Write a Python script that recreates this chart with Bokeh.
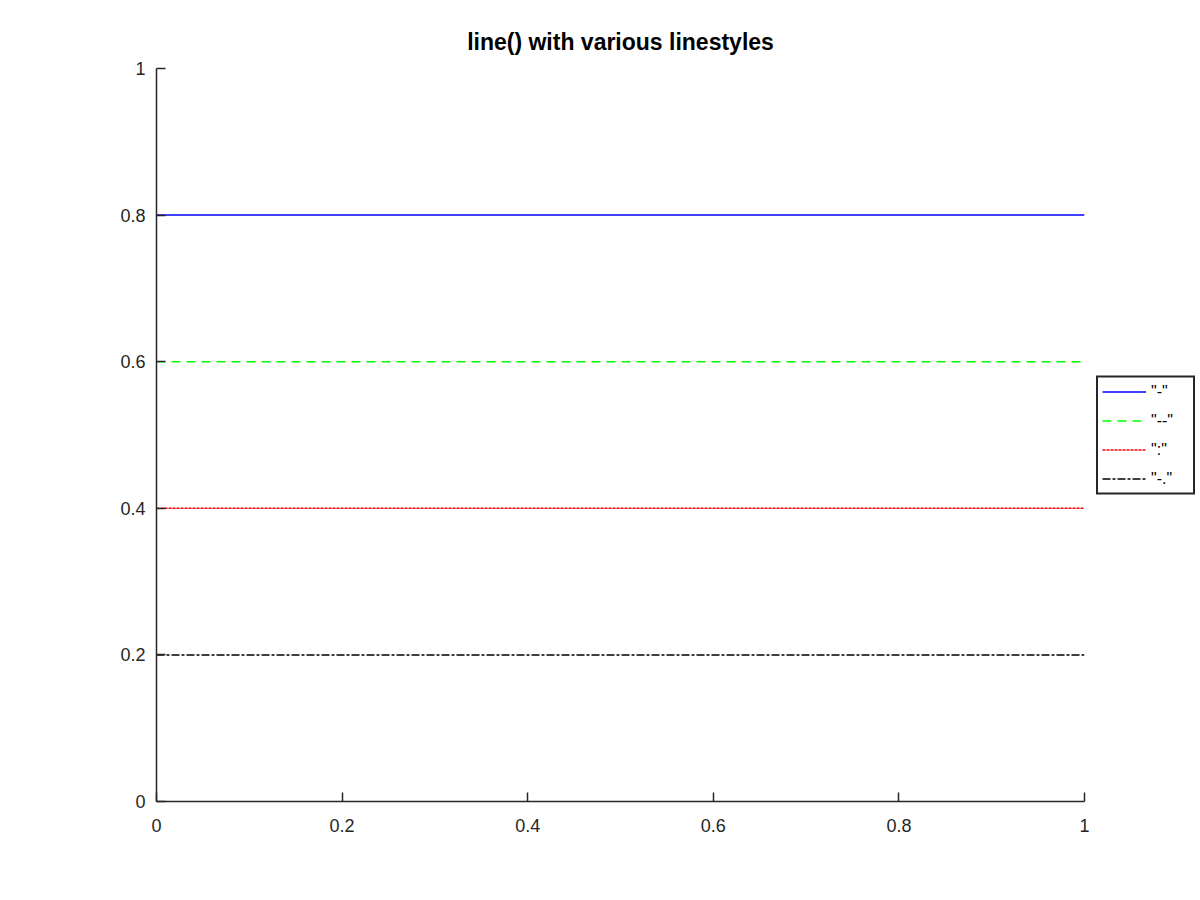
from bokeh.plotting import figure
from bokeh.models import Range1d, Legend, LegendItem, FixedTicker
from bokeh.embed import file_html
from bokeh.resources import INLINE

# data
x_values = [0.0, 1.0]
y_levels = [0.8, 0.6, 0.4, 0.2]
labels = ['"-"', '"--"', '":"', '"-."']
colors = ["#0000ff", "#00ff00", "#ff0000", "#000000"]
dashes = ["solid", "9 6", "3 1", "8 2 3 2"]
ticks = [0, 0.2, 0.4, 0.6, 0.8, 1]
tick_labels = {0: "0", 0.2: "0.2", 0.4: "0.4", 0.6: "0.6", 0.8: "0.8", 1: "1"}

FONT = "Liberation Sans"
AX = "#262626"

p = figure(frame_width=928, frame_height=733,
           x_range=Range1d(0, 1), y_range=Range1d(0, 1),
           output_backend="svg", toolbar_location=None,
           min_border_left=156, min_border_top=68,
           min_border_right=116, min_border_bottom=99,
           title="line() with various linestyles")
p.title.align = "center"
p.title.text_font = FONT
p.title.text_font_size = "23px"
p.title.text_font_style = "bold"
p.title.text_color = "#000000"
p.title.standoff = 28

p.outline_line_color = None
p.xgrid.visible = False
p.ygrid.visible = False
p.background_fill_color = "white"
p.border_fill_color = "white"

for ax in (p.xaxis[0], p.yaxis[0]):
    ax.ticker = FixedTicker(ticks=ticks)
    ax.major_label_overrides = tick_labels
    ax.axis_line_color = AX
    ax.axis_line_width = 1.5
    ax.major_tick_line_color = AX
    ax.major_tick_line_width = 1.5
    ax.major_tick_in = 9
    ax.major_tick_out = 0
    ax.minor_tick_line_color = None
    ax.major_label_text_font = FONT
    ax.major_label_text_font_size = "18px"
    ax.major_label_text_color = AX
p.xaxis[0].major_label_standoff = 17
p.yaxis[0].major_label_standoff = 11

items = []
for y, lab, c, d in zip(y_levels, labels, colors, dashes):
    r = p.line(x_values, [y, y], line_color=c, line_width=1.5, line_dash=d)
    items.append(LegendItem(label=lab, renderers=[r]))

legend = Legend(items=items, location="center_left",
                label_text_font=FONT, label_text_font_size="16px",
                label_text_color="#000000",
                glyph_width=44, glyph_height=20, label_height=20,
                label_standoff=5, label_width=38, spacing=9, padding=4,
                margin=12, border_line_color=AX, border_line_width=2,
                border_line_alpha=1.0,
                background_fill_color="white", background_fill_alpha=1.0)
p.add_layout(legend, "right")

open("out.html", "w").write(file_html(p, INLINE))
